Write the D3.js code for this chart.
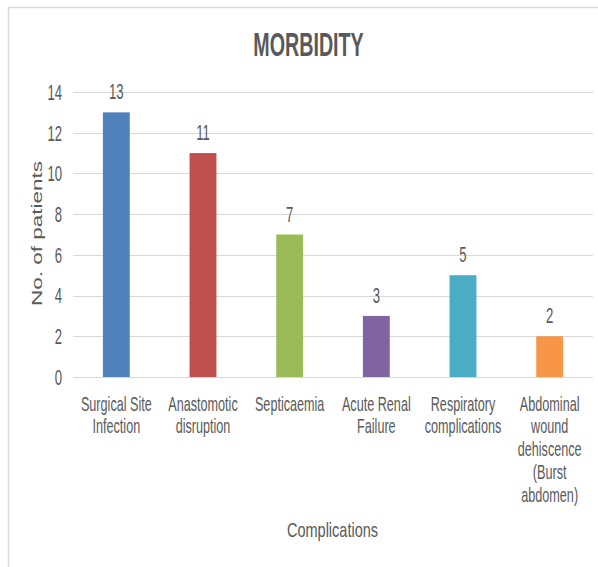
<!DOCTYPE html>
<html>
<head>
<meta charset="utf-8">
<script src="https://cdn.jsdelivr.net/npm/d3@7"></script>
<style>
  html, body { margin: 0; padding: 0; background: #fff; }
  svg { display: block; }
</style>
</head>
<body>
<div id="chart"></div>
<script>
// Morbidity counts by complication type
const categories = [
  ["Surgical Site", "Infection"],
  ["Anastomotic", "disruption"],
  ["Septicaemia"],
  ["Acute Renal", "Failure"],
  ["Respiratory", "complications"],
  ["Abdominal", "wound", "dehiscence", "(Burst", "abdomen)"]
];
const values = [13, 11, 7, 3, 5, 2];
const colors = ["#4F81BD", "#C0504D", "#9BBB59", "#8064A2", "#4BACC6", "#F79646"];
const yTicks = [0, 2, 4, 6, 8, 10, 12, 14];
const titleText = "MORBIDITY";
const xTitle = "Complications";
const yTitle = "No. of patients";

const W = 598, H = 567;
const textColor = "#595959";
const gridColor = "#D9D9D9";
const sans = "'Liberation Sans', Arial, sans-serif";
const condense = 0.82;   // narrow face approximated by horizontal compression
const stretchY = 1.36;

const svg = d3.select("#chart").append("svg")
  .attr("width", W).attr("height", H);

// chart frame
svg.append("rect")
  .attr("x", 8.5).attr("y", 7.5)
  .attr("width", W + 20).attr("height", H + 20)
  .attr("fill", "#fff")
  .attr("stroke", gridColor).attr("stroke-width", 1.5);

const x = d3.scaleBand()
  .domain(d3.range(values.length))
  .range([73, 593])
  .paddingInner(0.69)
  .paddingOuter(0.345);

const y = d3.scaleLinear().domain([0, 14]).range([377, 92]);

// text helper: places text with horizontal/vertical scaling
function label(g, str, px, py, opts) {
  const t = g.append("text")
    .attr("transform", `translate(${px},${py})` + (opts.rotate ? ` rotate(${opts.rotate})` : "") +
      ` scale(${opts.sx || 1},${opts.sy || 1})`)
    .attr("text-anchor", opts.anchor || "middle")
    .attr("font-family", sans)
    .attr("font-size", opts.size)
    .attr("font-weight", opts.weight || "normal")
    .attr("fill", textColor)
    .text(str);
  if (opts.dy) t.attr("dy", opts.dy);
  return t;
}

// gridlines
const grid = svg.append("g");
grid.selectAll("line")
  .data(yTicks)
  .join("line")
  .attr("x1", 73).attr("x2", 593)
  .attr("y1", d => Math.round(y(d)) + 0.5)
  .attr("y2", d => Math.round(y(d)) + 0.5)
  .attr("stroke", gridColor)
  .attr("stroke-width", 1.2);

// y tick labels
const yAxisG = svg.append("g");
yTicks.forEach(t => {
  label(yAxisG, t, 62, y(t), { size: 16, sx: condense, sy: stretchY, anchor: "end", dy: "0.36em" });
});

// bars
svg.append("g").selectAll("rect")
  .data(values)
  .join("rect")
  .attr("x", (d, i) => x(i))
  .attr("width", x.bandwidth())
  .attr("y", d => y(d))
  .attr("height", d => y(0) - y(d))
  .attr("fill", (d, i) => colors[i]);

// data labels
const dl = svg.append("g");
values.forEach((v, i) => {
  label(dl, v, x(i) + x.bandwidth() / 2, y(v) - 13, { size: 16, sx: condense, sy: stretchY });
});

// category labels
const cg = svg.append("g");
categories.forEach((lines, i) => {
  lines.forEach((ln, j) => {
    label(cg, ln, x(i) + x.bandwidth() / 2, 410.5 + j * 22.8, { size: 15.4, sx: condense, sy: stretchY });
  });
});

// title
label(svg, titleText, 308.5, 56, { size: 24, weight: "bold", sx: condense, sy: 1.38 });

// axis titles
label(svg, xTitle, 332.5, 537, { size: 14.5, sy: 1.4 });
label(svg, yTitle, 42, 233.5, { size: 15, rotate: -90, sx: 1.5 });
</script>
</body>
</html>
